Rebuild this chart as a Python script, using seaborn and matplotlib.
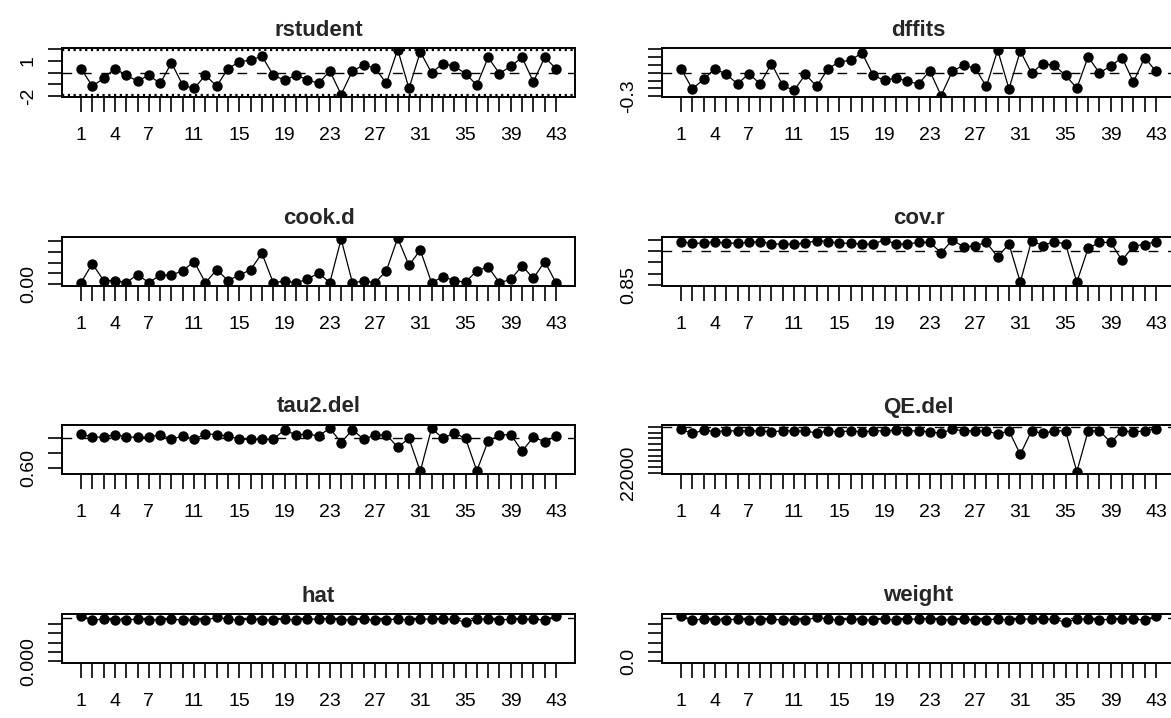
import matplotlib
matplotlib.use("Agg")
import matplotlib.pyplot as plt
import pandas as pd
import seaborn as sns

# ---------------- data ----------------
study = list(range(1, 44))

rstudent = [0.34, -1.17, -0.51, 0.34, -0.23, -0.74, -0.23, -0.94, 0.83, -1.09,
            -1.37, -0.23, -1.17, 0.34, 0.91, 1.06, 1.40, -0.23, -0.66, -0.23,
            -0.60, -0.94, 0.14, -1.89, 0.14, 0.63, 0.40, -0.94, 1.97, -1.37,
            1.77, -0.03, 0.77, 0.54, -0.09, -1.09, 1.29, -0.09, 0.54, 1.29,
            -0.80, 1.29, 0.34]

dffits = [0.052, -0.206, -0.086, 0.052, -0.021, -0.142, -0.013, -0.142, 0.116, -0.163,
          -0.227, -0.021, -0.176, 0.052, 0.137, 0.159, 0.253, -0.034, -0.099, -0.064,
          -0.112, -0.142, 0.021, -0.292, 0.021, 0.094, 0.060, -0.176, 0.288, -0.206,
          0.275, -0.004, 0.116, 0.094, -0.034, -0.197, 0.202, -0.004, 0.086, 0.193,
          -0.120, 0.193, 0.017]

cook_d = [0.003, 0.038, 0.007, 0.007, 0.003, 0.018, 0.003, 0.017, 0.017, 0.025,
          0.042, 0.003, 0.027, 0.007, 0.017, 0.027, 0.057, 0.003, 0.006, 0.003,
          0.009, 0.021, 0.003, 0.083, 0.003, 0.006, 0.003, 0.025, 0.085, 0.035,
          0.063, 0.003, 0.014, 0.007, 0.004, 0.025, 0.032, 0.003, 0.009, 0.034,
          0.011, 0.042, 0.003]

cov_r = [1.042, 1.034, 1.035, 1.042, 1.034, 1.035, 1.038, 1.042, 1.031, 1.031,
         1.031, 1.035, 1.046, 1.042, 1.035, 1.034, 1.031, 1.031, 1.049, 1.031,
         1.031, 1.038, 1.038, 0.992, 1.049, 1.018, 1.023, 1.038, 0.974, 1.031,
         0.862, 1.046, 1.023, 1.042, 1.031, 0.862, 1.012, 1.038, 1.038, 0.958,
         1.023, 1.028, 1.042]

tau2_del = [0.715, 0.704, 0.704, 0.713, 0.704, 0.704, 0.704, 0.713, 0.697, 0.708,
            0.697, 0.715, 0.713, 0.708, 0.697, 0.697, 0.697, 0.697, 0.729, 0.711,
            0.715, 0.708, 0.734, 0.686, 0.729, 0.697, 0.711, 0.713, 0.670, 0.700,
            0.589, 0.734, 0.700, 0.718, 0.700, 0.591, 0.691, 0.711, 0.713, 0.657,
            0.704, 0.689, 0.708]

qe_del = [25800, 25430, 25710, 25600, 25660, 25660, 25660, 25660, 25570, 25660,
          25660, 25660, 25460, 25660, 25570, 25660, 25570, 25660, 25660, 25710,
          25660, 25660, 25570, 25460, 25800, 25660, 25660, 25660, 25370, 25660,
          23600, 25660, 25430, 25660, 25660, 22090, 25660, 25660, 24660, 25660,
          25570, 25660, 25860]

weight = [2.45, 2.22, 2.27, 2.22, 2.24, 2.27, 2.22, 2.24, 2.27, 2.22,
          2.24, 2.22, 2.36, 2.27, 2.22, 2.27, 2.22, 2.24, 2.27, 2.22,
          2.27, 2.27, 2.30, 2.22, 2.24, 2.27, 2.22, 2.24, 2.27, 2.22,
          2.27, 2.27, 2.27, 2.27, 2.10, 2.27, 2.27, 2.22, 2.27, 2.27,
          2.27, 2.22, 2.43]

hat = [0.0245, 0.0222, 0.0227, 0.0222, 0.0224, 0.0227, 0.0222, 0.0224, 0.0227, 0.0222,
       0.0224, 0.0222, 0.0236, 0.0227, 0.0222, 0.0227, 0.0222, 0.0224, 0.0227, 0.0222,
       0.0227, 0.0227, 0.0230, 0.0222, 0.0224, 0.0227, 0.0222, 0.0224, 0.0227, 0.0222,
       0.0227, 0.0227, 0.0227, 0.0227, 0.0210, 0.0227, 0.0227, 0.0222, 0.0227, 0.0227,
       0.0227, 0.0222, 0.0243]

# reference values of the full model
tau2_full = 0.70
qe_full = 26000
k = len(study)

x_labelled = [1, 4, 7, 11, 15, 19, 23, 27, 31, 35, 39, 43]

panels = [
    dict(title="rstudent", y=rstudent, ylim=(-2.1, 2.1),
         yticks=[-2, -1, 0, 1, 2], ylab={-2: "-2", 1: "1"},
         dashed=[0], dotted=[-1.96, 1.96]),
    dict(title="dffits", y=dffits, ylim=(-0.31, 0.315),
         yticks=[-0.3, -0.2, -0.1, 0.0, 0.1, 0.2, 0.3], ylab={-0.3: "-0.3"},
         dashed=[0], dotted=[]),
    dict(title="cook.d", y=cook_d, ylim=(-0.003, 0.087),
         yticks=[0.0, 0.02, 0.04, 0.06, 0.08], ylab={0.0: "0.00"},
         dashed=[], dotted=[]),
    dict(title="cov.r", y=cov_r, ylim=(0.845, 1.062),
         yticks=[0.85, 0.90, 0.95, 1.00, 1.05], ylab={0.85: "0.85"},
         dashed=[1.0], dotted=[]),
    dict(title="tau2.del", y=tau2_del, ylim=(0.58, 0.745),
         yticks=[0.60, 0.65, 0.70], ylab={0.60: "0.60"},
         dashed=[tau2_full], dotted=[]),
    dict(title="QE.del", y=qe_del, ylim=(21886, 26171),
         yticks=list(range(22000, 26001, 500)), ylab={22000: "22000"},
         dashed=[qe_full], dotted=[]),
    dict(title="hat", y=hat, ylim=(-0.00098, 0.02548),
         yticks=[0.0, 0.005, 0.010, 0.015, 0.020], ylab={0.0: "0.000"},
         dashed=[1 / k], dotted=[]),
    dict(title="weight", y=weight, ylim=(-0.098, 2.548),
         yticks=[0.0, 0.5, 1.0, 1.5, 2.0], ylab={0.0: "0.0"},
         dashed=[100 / k], dotted=[]),
]

# ---------------- figure ----------------
sns.set_style("white")
plt.rcParams["font.family"] = ["Liberation Sans", "DejaVu Sans"]

W, H = 1171, 718
fig = plt.figure(figsize=(W / 100, H / 100), dpi=100)

col_x = [62, 662]
row_y = [48, 237, 425, 614]
box_w, box_h = 513, 49

for i, p in enumerate(panels):
    r, c = divmod(i, 2)
    x0, y0 = col_x[c], row_y[r]
    ax = fig.add_axes([x0 / W, 1 - (y0 + box_h) / H, box_w / W, box_h / H])

    for v in p["dashed"]:
        ax.axhline(v, color="black", lw=1.0, linestyle=(0, (7, 7)), zorder=1)
    for v in p["dotted"]:
        ax.axhline(v, color="black", lw=1.6, linestyle=(0, (1, 1.6)), zorder=1)

    df = pd.DataFrame({"study": study, "value": p["y"]})
    sns.lineplot(data=df, x="study", y="value", ax=ax, color="black",
                 linewidth=0.9, marker="o", markersize=7.5,
                 markeredgecolor="black", markeredgewidth=0, legend=False,
                 zorder=3)

    ax.set_xlim(-0.68, 44.68)
    ax.set_ylim(*p["ylim"])
    ax.set_xticks(study)
    ax.set_xticklabels([str(s) if s in x_labelled else "" for s in study])
    ax.set_yticks(p["yticks"])
    ax.set_yticklabels([p["ylab"].get(t, "") for t in p["yticks"]])
    ax.set_xlabel("")
    ax.set_ylabel("")

    ax.tick_params(axis="x", bottom=True, length=10.5, width=1.2,
                   direction="out", labelsize=14, pad=11, colors="black")
    ax.tick_params(axis="y", left=True, length=10, width=1.2,
                   direction="out", labelsize=14, pad=8, labelrotation=90,
                   colors="black")
    for lab in ax.get_yticklabels():
        lab.set_verticalalignment("center")

    for s in ax.spines.values():
        s.set_visible(True)
        s.set_color("black")
        s.set_linewidth(1.4)

    ax.set_title(p["title"], fontsize=16, fontweight="bold", pad=9)

fig.savefig("out.png", dpi=100)
